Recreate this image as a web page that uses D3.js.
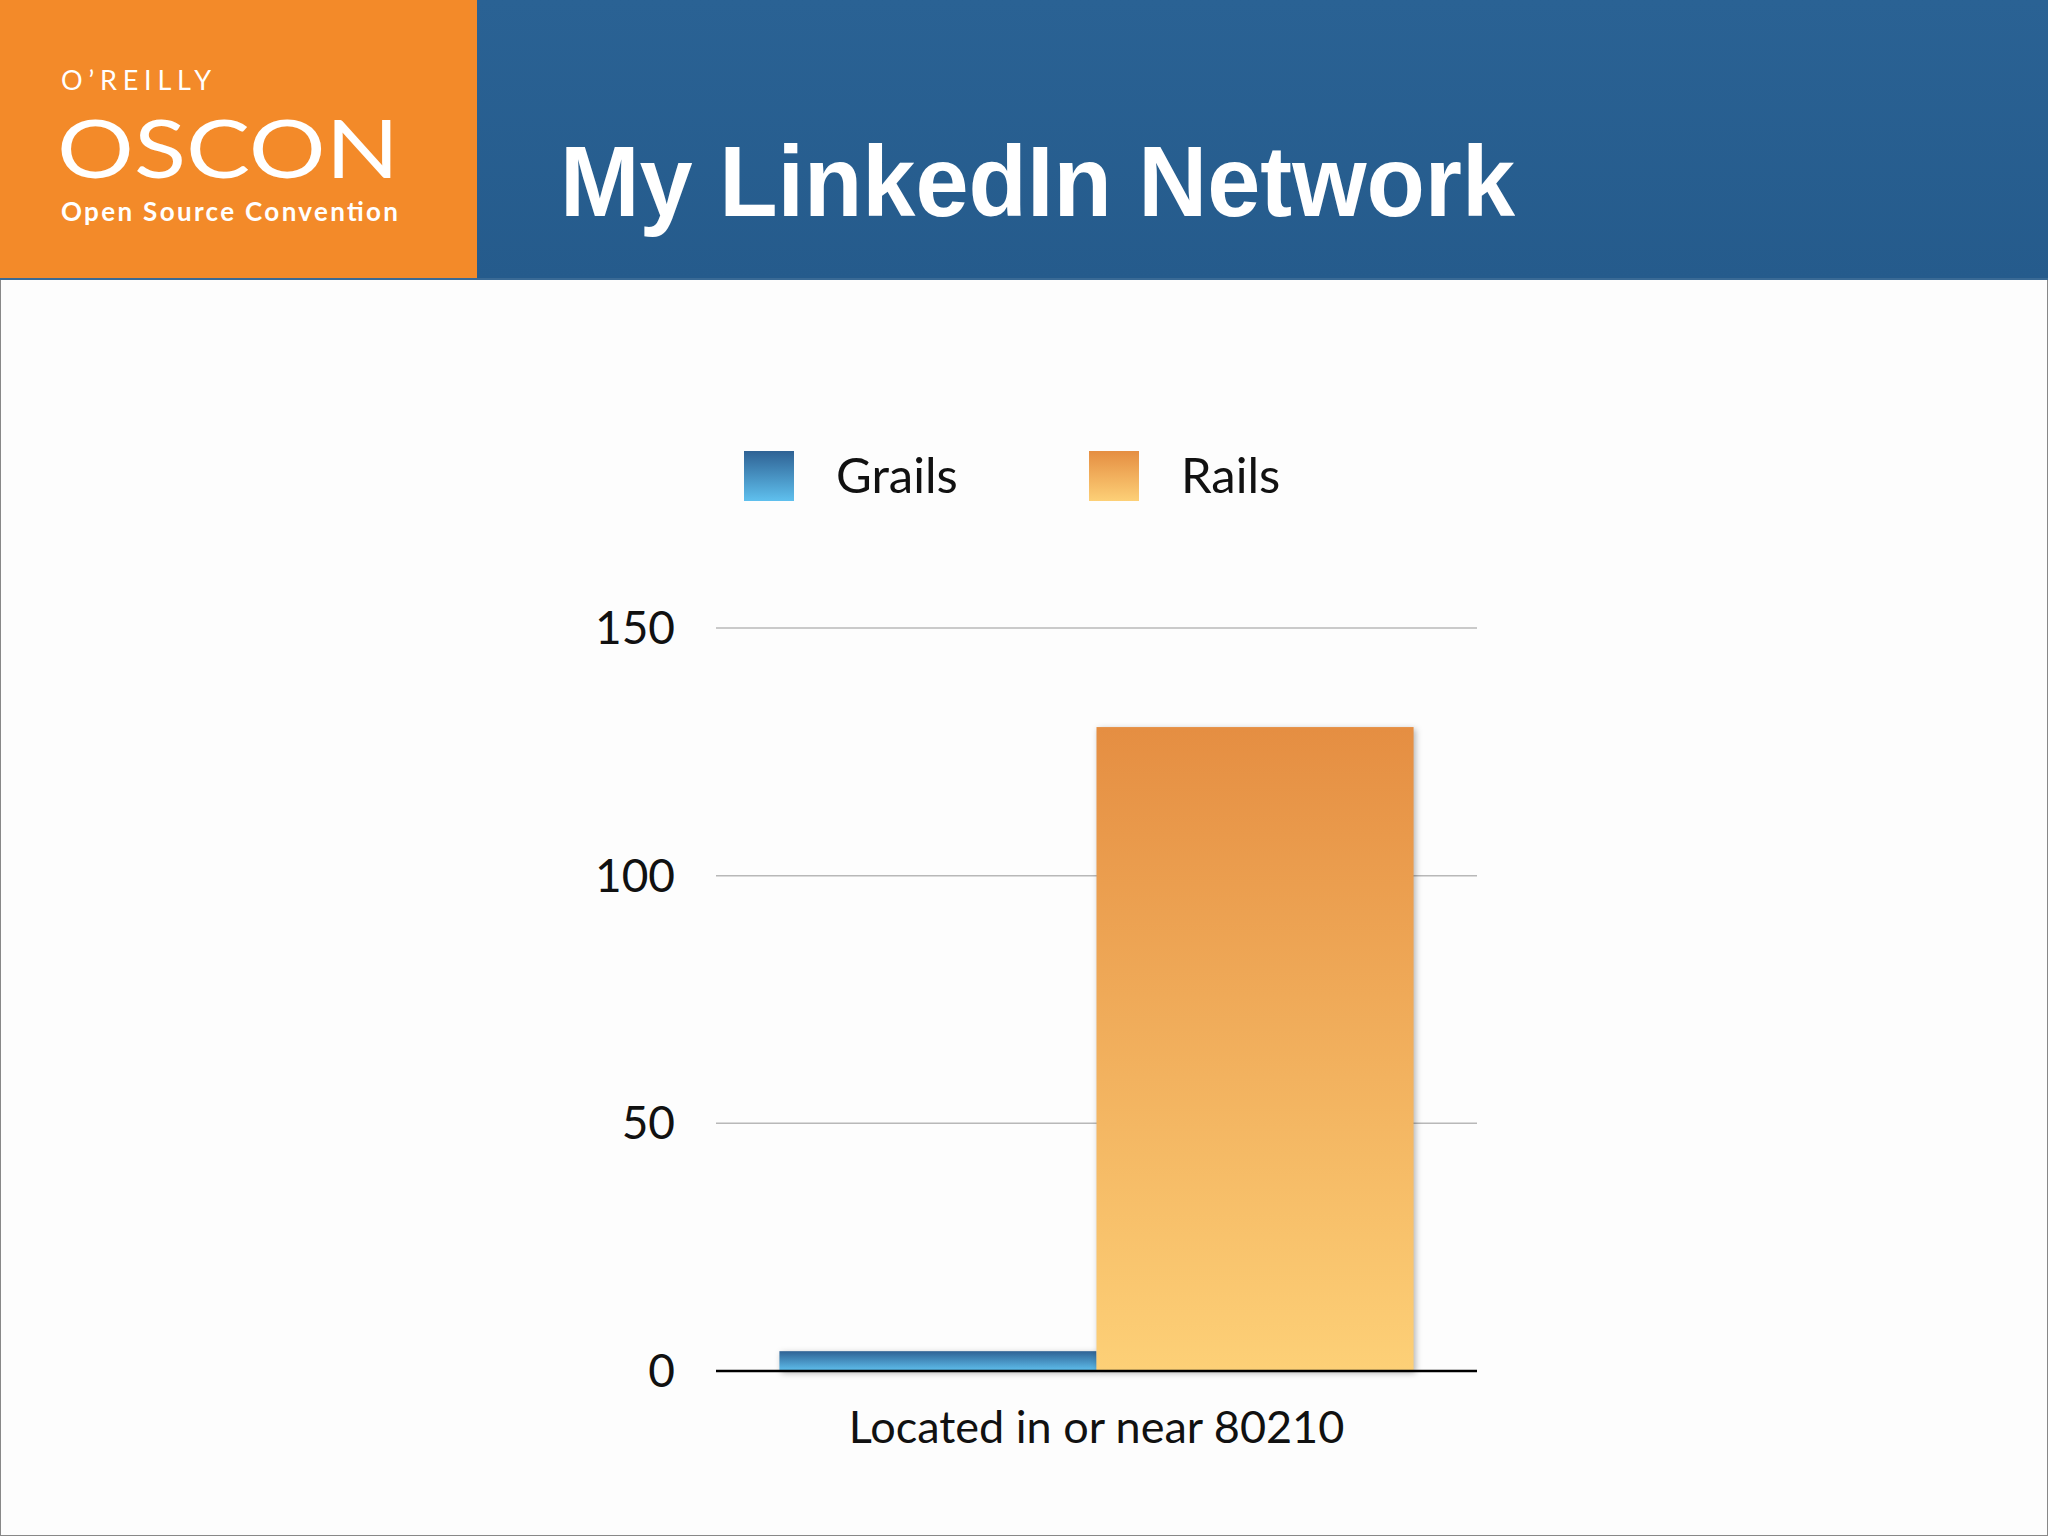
<!DOCTYPE html>
<html><head><meta charset="utf-8">
<script src="https://cdn.jsdelivr.net/npm/d3@7"></script>
<style>body{margin:0;background:#fff}svg{display:block}</style>
</head><body>
<script>
const categories = ["Located in or near 80210"];
const seriesNames = ["Grails","Rails"];
const grailsValues = [4];
const railsValues = [130];
const yTicks = [0,50,100,150];

const W=2048,H=1536;
const svg=d3.select("body").append("svg").attr("width",W).attr("height",H);
const defs=svg.append("defs");
function grad(id,c1,c2){const g=defs.append("linearGradient").attr("id",id).attr("x1",0).attr("y1",0).attr("x2",0).attr("y2",1);
g.append("stop").attr("offset",0).attr("stop-color",c1);g.append("stop").attr("offset",1).attr("stop-color",c2);}
grad("gB","#2f6294","#5fc0ee");
grad("gO","#e58e42","#fdd077");
grad("hdr","#2a6294","#255b8c");
svg.append("rect").attr("width",W).attr("height",H).attr("fill","#fdfdfd").attr("stroke","#888").attr("stroke-width",2);
svg.append("rect").attr("width",W).attr("height",279).attr("fill","url(#hdr)");
svg.append("rect").attr("width",477).attr("height",279).attr("fill","#f38a29");
svg.append("line").attr("x1",0).attr("x2",W).attr("y1",279).attr("y2",279).attr("stroke","#3a6a95").attr("stroke-width",2);
svg.append("text").attr("x",61).attr("y",90).attr("font-family","Lato").attr("font-size",27).attr("fill","#fff").attr("textLength",150).text("O’REILLY");
svg.append("text").attr("x",57).attr("y",178).attr("font-family","Lato").attr("font-size",82).attr("fill","#fff").attr("textLength",342).attr("lengthAdjust","spacingAndGlyphs").text("OSCON");
svg.append("text").attr("x",61).attr("y",221).attr("font-family","Lato").attr("font-weight","bold").attr("font-size",26).attr("fill","#fff").attr("textLength",337).text("Open Source Convention");
svg.append("text").attr("x",560).attr("y",216).attr("font-family","Liberation Sans, Arial").attr("font-weight","bold").attr("font-size",100).attr("fill","#fff").attr("textLength",955).attr("lengthAdjust","spacingAndGlyphs").text("My LinkedIn Network");

const x0=d3.scaleBand().domain(categories).range([716,1477]).paddingInner(0).paddingOuter(0.1);
const x1=d3.scaleBand().domain(seriesNames).range([0,x0.bandwidth()]);
const y=d3.scaleLinear().domain([0,150]).range([1371,628]);
const font="Lato, Open Sans, sans-serif";
const g=svg.append("g");
yTicks.forEach(t=>{
 if(t>0) g.append("line").attr("x1",716).attr("x2",1477).attr("y1",y(t)).attr("y2",y(t)).attr("stroke","#b8b8b8").attr("stroke-width",1.5);
 g.append("text").attr("x",675).attr("y",y(t)+16).attr("text-anchor","end").attr("font-family",font).attr("font-size",46).attr("fill","#111").text(t);
});
const data=[{s:"Grails",v:grailsValues[0],f:"url(#gB)"},{s:"Rails",v:railsValues[0],f:"url(#gO)"}];
g.selectAll("rect.bar").data(data).join("rect").attr("class","bar")
 .attr("x",d=>x0(categories[0])+x1(d.s)).attr("width",x1.bandwidth())
 .attr("y",d=>y(d.v)).attr("height",d=>y(0)-y(d.v)).attr("fill",d=>d.f)
 .style("filter","drop-shadow(2px 2px 3px rgba(0,0,0,0.3))");
g.append("line").attr("x1",716).attr("x2",1477).attr("y1",y(0)).attr("y2",y(0)).attr("stroke","#000").attr("stroke-width",2.5);
g.append("text").attr("x",x0(categories[0])+x0.bandwidth()/2).attr("y",1443).attr("text-anchor","middle").attr("font-family",font).attr("font-size",45).attr("fill","#111").text(categories[0]);
const lx=[744,1089];
seriesNames.forEach((s,i)=>{
 svg.append("rect").attr("x",lx[i]).attr("y",451).attr("width",50).attr("height",50).attr("fill",data[i].f);
 svg.append("text").attr("x",lx[i]+92).attr("y",493).attr("font-family",font).attr("font-size",49).attr("fill","#111").text(s);
});
</script>
</body></html>
